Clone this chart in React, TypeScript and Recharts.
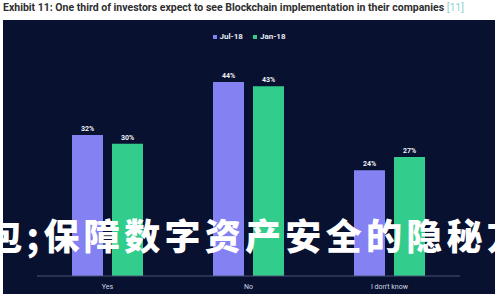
import React from 'react';
import { BarChart, Bar, XAxis, YAxis, LabelList } from 'recharts';

const answers = ['Yes', 'No', "I don't know"];
const jul18 = [32, 44, 24];
const jan18 = [30, 43, 27];
const seriesNames = ['Jul-18', 'Jan-18'];

const JUL = '#8482f2';
const JAN = '#32cd8c';

const data = answers.map((answer, i) => ({ answer, jul: jul18[i], jan: jan18[i] }));

const pct = (v: any) => `${v}%`;

export default function App() {
  return (
    <div style={{ position: 'absolute', left: 0, top: 0, width: 500, height: 300, overflow: 'hidden', background: '#fff', fontFamily: 'Roboto, sans-serif' }}>
      <div style={{ position: 'absolute', left: 3, top: 2, fontSize: 10.5, fontWeight: 700, color: '#2e2e2e', whiteSpace: 'nowrap', lineHeight: '12px' }}>
        Exhibit 11: One third of investors expect to see Blockchain implementation in their companies{' '}
        <span style={{ color: '#8fd4cc', fontWeight: 400 }}>[11]</span>
      </div>
      <div style={{ position: 'absolute', left: 3, top: 20, width: 492, height: 274, background: '#08112f' }}>
        <div style={{ position: 'absolute', left: 0, top: 12, width: 492, display: 'flex', justifyContent: 'center', gap: 10, fontSize: 8, fontWeight: 700, color: '#e8eaf4', lineHeight: '10px' }}>
          {seriesNames.map((name, i) => (
            <span key={name} style={{ display: 'flex', alignItems: 'center', gap: 3 }}>
              <span style={{ width: 4, height: 4, background: i === 0 ? JUL : JAN, display: 'inline-block' }} />
              {name}
            </span>
          ))}
        </div>
        <BarChart width={492} height={274} data={data} margin={{ top: 35.5, right: 35, left: 34, bottom: 0 }} barGap={9}>
          <XAxis
            dataKey="answer"
            height={18}
            tickLine={false}
            axisLine={{ stroke: '#4c5578' }}
            tick={{ fill: '#d4d8e6', fontSize: 7 }}
          />
          <YAxis hide domain={[0, 50]} />
          <Bar dataKey="jul" name={seriesNames[0]} fill={JUL} barSize={31} isAnimationActive={false}>
            <LabelList dataKey="jul" position="top" offset={4} formatter={pct} fill="#eef0f8" fontSize={7} fontWeight={700} />
          </Bar>
          <Bar dataKey="jan" name={seriesNames[1]} fill={JAN} barSize={31} isAnimationActive={false}>
            <LabelList dataKey="jan" position="top" offset={4} formatter={pct} fill="#eef0f8" fontSize={7} fontWeight={700} />
          </Bar>
        </BarChart>
      </div>
      <div style={{ position: 'absolute', left: -54, top: 216, fontSize: 36, lineHeight: '36px', letterSpacing: 4.3, fontWeight: 900, color: '#ffffff', whiteSpace: 'nowrap', fontFamily: '"Noto Sans CJK SC", sans-serif' }}>
        钱包;保障数字资产安全的隐秘方法
      </div>
    </div>
  );
}
